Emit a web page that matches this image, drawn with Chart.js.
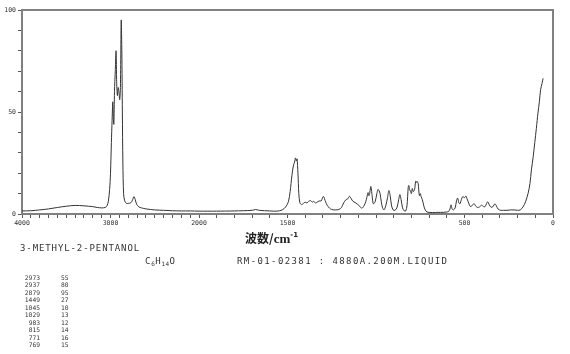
<!DOCTYPE html>
<html>
<head>
<meta charset="utf-8">
<script src="https://cdn.jsdelivr.net/npm/chart.js@4/dist/chart.umd.min.js"></script>
<style>
  html, body { margin:0; padding:0; background:#fff; }
  #wrap { position:relative; width:570px; height:354px; overflow:hidden; background:#fff; }
  #c { position:absolute; left:0; top:0; }
  .t { position:absolute; white-space:pre; color:#333; font-family:"DejaVu Sans Mono", monospace; }
  #xtitle { left:245px; top:228px; font-size:12px; line-height:14px; font-weight:bold; color:#222; font-family:"Noto Sans CJK JP", sans-serif; }
  #xtitle .cm { font-family:"Liberation Serif", serif; font-size:13px; }
  #xtitle sup { font-size:7px; vertical-align:6px; font-family:"DejaVu Sans", sans-serif; }
  #name { left:20px; top:244px; font-size:9px; line-height:9px; letter-spacing:0.9px; }
  #formula { left:145px; top:257px; font-size:9px; line-height:9px; letter-spacing:0.9px; }
  #formula sub { font-size:6px; vertical-align:-2px; letter-spacing:0.3px; }
  #ref { left:237px; top:257px; font-size:9px; line-height:9px; letter-spacing:1.4px; }
  #pw { left:18px; top:274px; width:22px; text-align:right; font-size:6.3px; line-height:7.47px; }
  #pi { left:61px; top:274px; font-size:6.3px; line-height:7.47px; }
</style>
</head>
<body>
<div id="wrap">
  <canvas id="c" width="570" height="354"></canvas>
  <div id="xtitle" class="t">波数/<span class="cm">cm</span><sup>-1</sup></div>
  <div id="name" class="t">3-METHYL-2-PENTANOL</div>
  <div id="formula" class="t">C<sub>6</sub>H<sub>14</sub>O</div>
  <div id="ref" class="t">RM-01-02381 : 4880A.200M.LIQUID</div>
  <div id="pw" class="t"></div>
  <div id="pi" class="t"></div>
</div>
<script>
// ---- data ----
const wavenumbers = [
  4000,3900,3800,3700,3600,3500,3400,3300,3200,3150,3100,3060,3040,3025,3010,3000,
  2990,2982,2974,2968,2962,2955,2946,2937,2930,2922,2914,2905,2896,2888,2879,2872,
  2866,2860,2852,2840,2820,2800,2770,2750,2735,2720,2705,2680,2650,2600,2500,2400,
  2300,2200,2100,2000,1900,1800,1700,1680,1660,1600,1560,1530,1510,1495,1485,1475,
  1466,1460,1455,1450,1446,1441,1436,1430,1420,1410,1400,1390,1380,1370,1360,1352,
  1342,1333,1321,1310,1297,1285,1275,1262,1250,1230,1210,1195,1183,1170,1160,1150,
  1140,1130,1118,1105,1092,1080,1068,1058,1052,1045,1040,1036,1029,1022,1015,1005,
  995,989,983,977,970,963,955,945,935,927,920,912,903,893,882,872,
  865,858,850,840,832,825,818,815,810,805,800,795,789,782,776,771,
  768,762,755,750,745,738,730,722,712,700,680,650,620,600,590,582,
  576,570,562,553,545,539,532,526,518,510,500,492,486,479,470,463,
  455,445,436,426,415,403,392,384,376,369,360,350,340,328,320,310,
  295,280,260,240,220,200,185,169,155,141,130,122,112,103,94,85,
  77,70,62,56
];
const intensities = [
  1.5,1.6,2.0,2.5,3.2,3.8,4.2,4.0,3.6,3.2,3.0,3.2,4.0,6,12,20,
  35,46,55,47,44,60,70,80,64,58,62,60,56,62,95,80,
  50,25,10,6.5,5.2,5.2,5.5,7,8.5,7,4.8,3.5,3.0,2.5,2.0,1.8,
  1.6,1.5,1.5,1.4,1.4,1.5,1.8,2.2,1.8,1.5,1.4,2,3.5,6,11,19,
  24,25.5,27.5,26,27,20,10,5.5,4.6,5.2,5.8,5.4,6.2,6.6,5.8,6.2,
  5.4,5.8,6.4,6.4,8.6,6,4.2,2.8,2.2,2,2.2,3.2,5.4,7,7.4,8.7,
  7.5,6.2,5.6,4.8,3.8,2.8,4,6,8,10.5,9,10,13.5,9,5,6,
  10,12,11.5,10,6,3,2,4,8,11.5,9,4,2,1.8,3,7,
  9.5,7,3,1.5,1.5,4,13,14,12,11,10,12.5,11,12,16,15.5,
  16,15,9,10,8.5,7,4,2,1,0.8,0.7,0.8,0.8,1,1.2,2.5,
  4.5,2.5,2,3,6.5,7.8,5.5,5,7,8.5,8,8.8,7.5,6,4,3.6,
  4.5,5,3.8,3.2,3.5,4.3,3.6,3.6,5,6,4.5,3.3,3.6,5,4,2.4,
  1.8,1.8,1.8,2,2,1.8,2,3.5,6,10,15,21.6,28,35,42,49.5,
  55,61,64,66.5
];
const xTickLabels = [4000, 3000, 2000, 1500, 500, 0];
const yTickLabels = [0, 50, 100];
const peakWavenumbers = [2973, 2937, 2879, 1449, 1045, 1029, 983, 815, 771, 769];
const peakIntensities = [55, 80, 95, 27, 10, 13, 12, 14, 16, 15];

// ---- peak table text ----
document.getElementById('pw').textContent = peakWavenumbers.join('\n');
document.getElementById('pi').textContent = peakIntensities.join('\n');

// axis is compressed 2:1 above 2000 cm-1
function toAxis(w) { return w <= 2000 ? w : 2000 + (w - 2000) / 2; }
function fromAxis(u) { return u <= 2000 ? u : 2000 + (u - 2000) * 2; }

const framePlugin = {
  id: 'frame',
  afterDraw(chart) {
    const a = chart.chartArea, ctx = chart.ctx;
    ctx.save();
    ctx.strokeStyle = '#808080';
    ctx.lineWidth = 2;
    ctx.beginPath();
    ctx.moveTo(a.left, a.top);
    ctx.lineTo(a.right, a.top);
    ctx.lineTo(a.right, a.bottom);
    ctx.stroke();
    ctx.restore();
  }
};

const tickFont = { family: 'DejaVu Sans Mono', size: 6.5 };

new Chart(document.getElementById('c'), {
  type: 'line',
  data: {
    datasets: [{
      data: wavenumbers.map((w, i) => ({ x: toAxis(w), y: intensities[i] })),
      borderColor: '#333',
      borderWidth: 1,
      pointRadius: 0,
      tension: 0.3,
      fill: false
    }]
  },
  options: {
    responsive: false,
    animation: false,
    devicePixelRatio: 1,
    layout: { padding: { top: 10, right: 17, left: 0, bottom: 0 } },
    plugins: { legend: { display: false }, tooltip: { enabled: false } },
    scales: {
      x: {
        type: 'linear',
        reverse: true,
        min: 0,
        max: 3000,
        afterBuildTicks(s) {
          const t = [];
          for (let w = 0; w <= 4000; w += 100) t.push({ value: toAxis(w) });
          s.ticks = t;
        },
        afterFit(s) { s.height = 140; },
        ticks: {
          autoSkip: false, maxRotation: 0, minRotation: 0, padding: 1,
          color: '#333', font: tickFont,
          callback(v) {
            const w = Math.round(fromAxis(v));
            return xTickLabels.includes(w) ? String(w) : '';
          }
        },
        grid: { drawOnChartArea: false, drawTicks: true, tickLength: 4, color: '#555', lineWidth: 1 },
        border: { display: true, color: '#808080', width: 2 }
      },
      y: {
        min: 0,
        max: 100,
        afterBuildTicks(s) {
          const t = [];
          for (let v = 0; v <= 100; v += 10) t.push({ value: v });
          s.ticks = t;
        },
        afterFit(s) { s.width = 22; },
        ticks: {
          autoSkip: false, padding: 2, color: '#333', font: tickFont,
          callback(v) { return yTickLabels.includes(v) ? String(v) : ''; }
        },
        grid: { drawOnChartArea: false, drawTicks: true, tickLength: 4, color: '#555', lineWidth: 1 },
        border: { display: true, color: '#808080', width: 2 }
      }
    }
  },
  plugins: [framePlugin]
});
</script>
</body>
</html>
